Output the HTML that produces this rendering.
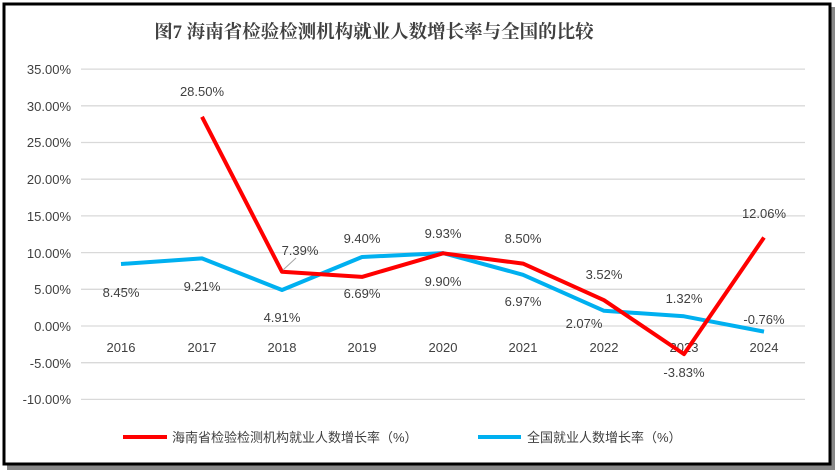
<!DOCTYPE html><html><head><meta charset="utf-8"><style>body{margin:0;background:#fff}svg{display:block}</style></head><body>
<svg width="839" height="476" xmlns="http://www.w3.org/2000/svg" font-family="Liberation Sans, Noto Sans CJK SC, sans-serif">
<rect x="7" y="7" width="828" height="463" fill="#888"/>
<rect x="4" y="4" width="826" height="460" fill="#fff" stroke="#000" stroke-width="3"/>
<text x="374" y="38" text-anchor="middle" font-family="Liberation Serif, Noto Serif CJK SC, serif" font-weight="bold" font-size="18.5" fill="#404040">图7 海南省检验检测机构就业人数增长率与全国的比较</text>
<g stroke="#d9d9d9" stroke-width="1.3">
<line x1="81" x2="805" y1="69.1" y2="69.1"/><line x1="81" x2="805" y1="105.8" y2="105.8"/><line x1="81" x2="805" y1="142.5" y2="142.5"/><line x1="81" x2="805" y1="179.2" y2="179.2"/><line x1="81" x2="805" y1="215.9" y2="215.9"/><line x1="81" x2="805" y1="252.6" y2="252.6"/><line x1="81" x2="805" y1="289.3" y2="289.3"/><line x1="81" x2="805" y1="326" y2="326"/><line x1="81" x2="805" y1="362.7" y2="362.7"/><line x1="81" x2="805" y1="399.4" y2="399.4"/>
</g>
<g font-size="13" fill="#404040" text-anchor="end">
<text x="71" y="74">35.00%</text><text x="71" y="111">30.00%</text><text x="71" y="147">25.00%</text><text x="71" y="184">20.00%</text><text x="71" y="221">15.00%</text><text x="71" y="258">10.00%</text><text x="71" y="294">5.00%</text><text x="71" y="331">0.00%</text><text x="71" y="368">-5.00%</text><text x="71" y="404">-10.00%</text>
</g>
<g font-size="13" fill="#404040" text-anchor="middle">
<text x="121" y="352">2016</text><text x="202" y="352">2017</text><text x="282" y="352">2018</text><text x="362" y="352">2019</text><text x="443" y="352">2020</text><text x="523" y="352">2021</text><text x="604" y="352">2022</text><text x="684" y="352">2023</text><text x="764" y="352">2024</text>
</g>
<polyline fill="none" stroke="#00b0f0" stroke-width="4" stroke-linejoin="round" points="121,264 202,258.4 282,290 362,257 443,253.1 523,274.8 604,310.8 684,316.3 764,331.6"/>
<polyline fill="none" stroke="#ff0000" stroke-width="4" stroke-linejoin="round" points="202,116.8 282,271.8 362,276.9 443,253.3 523,263.6 604,300.2 684,354.1 764,237.5"/>
<line x1="283" y1="270" x2="296" y2="258" stroke="#a6a6a6" stroke-width="1"/>
<g font-size="13" fill="#404040" text-anchor="middle">
<text x="202" y="96">28.50%</text><text x="121" y="297">8.45%</text><text x="202" y="291">9.21%</text><text x="300" y="255">7.39%</text><text x="282" y="322">4.91%</text><text x="362" y="243">9.40%</text><text x="362" y="298">6.69%</text><text x="443" y="238">9.93%</text><text x="443" y="286">9.90%</text><text x="523" y="243">8.50%</text><text x="523" y="306">6.97%</text><text x="604" y="279">3.52%</text><text x="584" y="328">2.07%</text><text x="684" y="303">1.32%</text><text x="684" y="377">-3.83%</text><text x="764" y="218">12.06%</text><text x="764" y="324">-0.76%</text>
</g>
<line x1="123" x2="167" y1="437" y2="437" stroke="#ff0000" stroke-width="4"/>
<text x="172" y="442" font-size="13" fill="#404040">海南省检验检测机构就业人数增长率（%）</text>
<line x1="478" x2="521" y1="437" y2="437" stroke="#00b0f0" stroke-width="4"/>
<text x="527" y="442" font-size="13" fill="#404040">全国就业人数增长率（%）</text>
</svg></body></html>
